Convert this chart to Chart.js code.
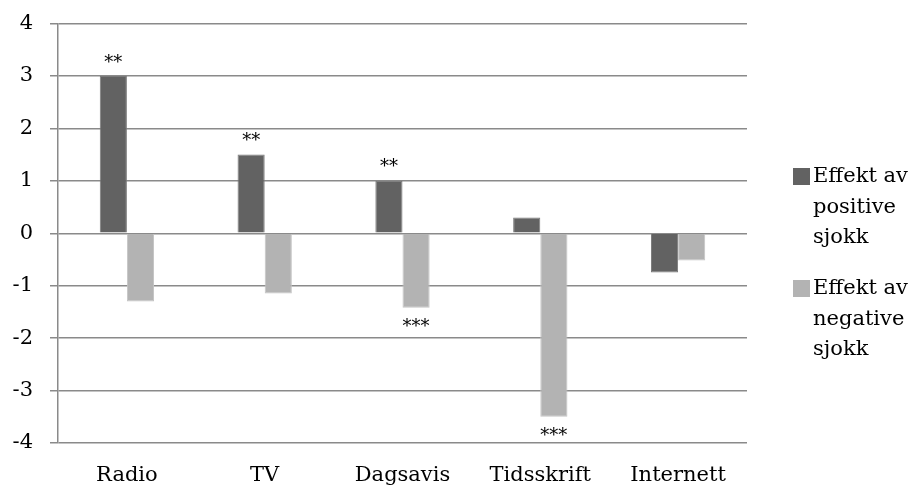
<!DOCTYPE html>
<html>
<head>
<meta charset="utf-8">
<script src="https://cdn.jsdelivr.net/npm/chart.js@4/dist/chart.umd.min.js"></script>
<style>
  html, body { margin: 0; padding: 0; background: #fff; overflow: hidden; }
  #wrap { width: 912px; height: 496px; position: relative; }
</style>
</head>
<body>
<div id="wrap"><canvas id="effectChart"></canvas></div>
<script>
const categories = ['Radio', 'TV', 'Dagsavis', 'Tidsskrift', 'Internett'];
const positiveShock = [3.0, 1.5, 1.0, 0.3, -0.75];
const negativeShock = [-1.3, -1.15, -1.42, -3.5, -0.52];
const positiveStars = ['**', '**', '**', '', ''];
const negativeStars = ['', '', '***', '***', ''];
const legendLabels = [
  ['Effekt av', 'positive', 'sjokk'],
  ['Effekt av', 'negative', 'sjokk']
];
const yTicks = [-4, -3, -2, -1, 0, 1, 2, 3, 4];

const FONT = '"DejaVu Serif", serif';
const FONT_SIZE = 21;
const DARK = '#626262';
const LIGHT = '#b3b3b3';
const GRID = '#8a8a8a';

// stars above / below bars
const starPlugin = {
  id: 'stars',
  afterDatasetsDraw(chart) {
    const ctx = chart.ctx;
    ctx.save();
    ctx.fillStyle = '#000';
    ctx.font = '18px ' + FONT;
    ctx.textAlign = 'center';
    [positiveStars, negativeStars].forEach((stars, di) => {
      const meta = chart.getDatasetMeta(di);
      meta.data.forEach((bar, i) => {
        if (!stars[i]) return;
        const val = chart.data.datasets[di].data[i];
        if (val >= 0) {
          ctx.textBaseline = 'bottom';
          ctx.fillText(stars[i], bar.x, bar.y - 4);
        } else {
          ctx.textBaseline = 'top';
          ctx.fillText(stars[i], bar.x, bar.y + 11);
        }
      });
    });
    ctx.restore();
  }
};

// wrapped legend on the right
const sideLegend = {
  id: 'sideLegend',
  afterDraw(chart) {
    const ctx = chart.ctx;
    const left = chart.chartArea.right + 46;
    const tops = [168, 280];
    const colors = [DARK, LIGHT];
    ctx.save();
    ctx.font = FONT_SIZE + 'px ' + FONT;
    ctx.textBaseline = 'middle';
    ctx.textAlign = 'left';
    legendLabels.forEach((lines, k) => {
      ctx.fillStyle = colors[k];
      ctx.fillRect(left, tops[k], 17, 17);
      ctx.fillStyle = '#000';
      lines.forEach((ln, j) => {
        ctx.fillText(ln, left + 20, tops[k] + 9 + j * 30.5);
      });
    });
    ctx.restore();
  }
};

function renderChart() {
  const ctx = document.getElementById('effectChart').getContext('2d');
  new Chart(ctx, {
    type: 'bar',
    data: {
      labels: categories,
      datasets: [
        { label: legendLabels[0].join(' '), data: positiveShock, backgroundColor: DARK,
          borderColor: '#7a7a7a', borderWidth: 1 },
        { label: legendLabels[1].join(' '), data: negativeShock, backgroundColor: LIGHT,
          borderColor: '#c4c4c4', borderWidth: 1 }
      ]
    },
    plugins: [starPlugin, sideLegend],
    options: {
      responsive: true,
      maintainAspectRatio: false,
      animation: false,
      layout: { padding: { top: 23.5, right: 165, bottom: 9, left: 0 } },
      plugins: {
        legend: { display: false },
        tooltip: { enabled: false }
      },
      datasets: {
        bar: { barPercentage: 1.0, categoryPercentage: 0.394 }
      },
      scales: {
        x: {
          afterFit(scale) { scale.height = 44; },
          grid: { display: false, drawTicks: false },
          border: { display: false },
          ticks: { color: '#000', font: { family: FONT, size: FONT_SIZE }, padding: 20, maxRotation: 0 }
        },
        y: {
          min: -4,
          max: 4,
          afterBuildTicks(scale) { scale.ticks = yTicks.map(v => ({ value: v })); },
          afterFit(scale) {
            scale.width = 58;
            scale.paddingTop = 0;
            scale.paddingBottom = 0;
          },
          grid: { color: GRID, lineWidth: 1.5, tickLength: 8 },
          border: { display: true, color: GRID, width: 1.5 },
          ticks: { color: '#000', font: { family: FONT, size: FONT_SIZE }, padding: 17 }
        }
      }
    }
  });
}

document.addEventListener('DOMContentLoaded', renderChart);
</script>
</body>
</html>
